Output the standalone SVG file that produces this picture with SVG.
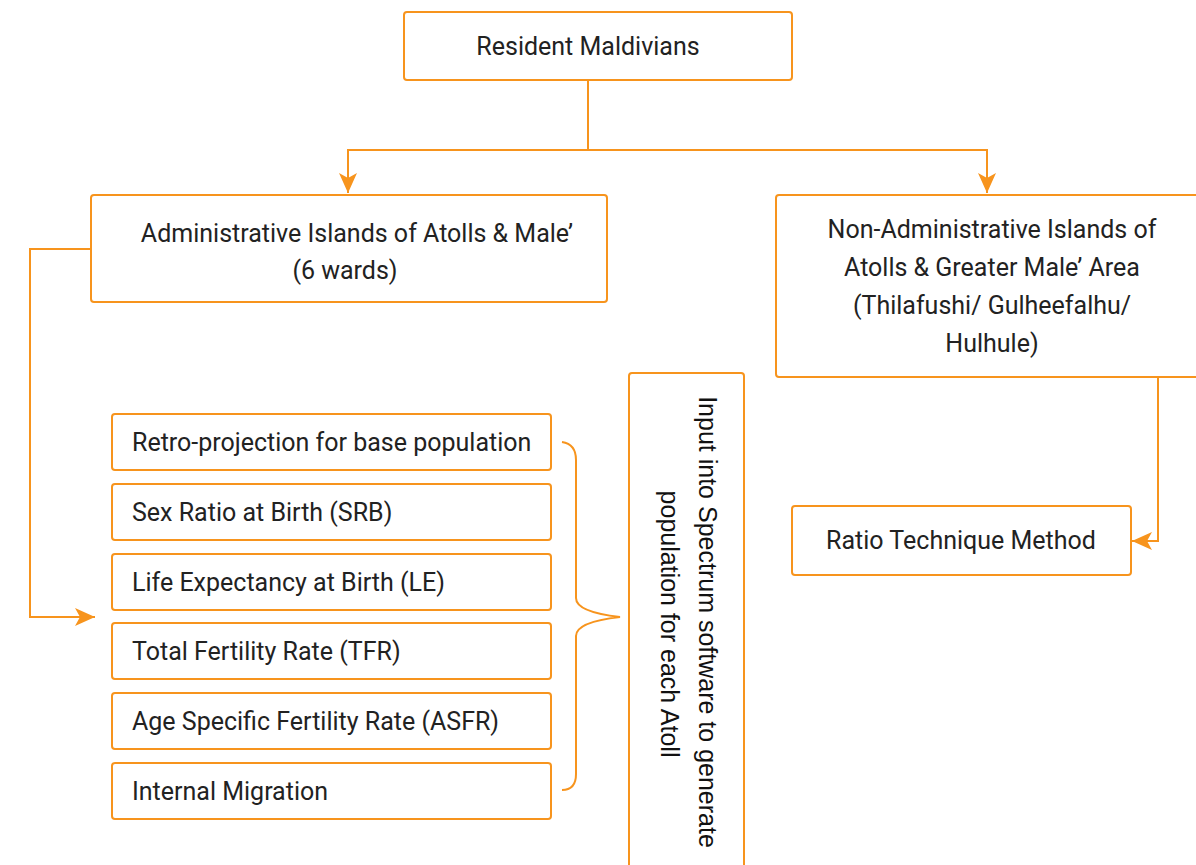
<svg xmlns="http://www.w3.org/2000/svg" width="1196" height="865" viewBox="0 0 1196 865">
<defs>
<style>
.box{fill:#fff;stroke:#F7941D;stroke-width:2}
.ln{fill:none;stroke:#F7941D;stroke-width:2}
.t{font-family:Roboto,"Liberation Sans",sans-serif;font-size:25px;fill:#222}
.c{text-anchor:middle}
.v{font-family:"Liberation Sans",Arial,sans-serif;font-size:25px;fill:#111;text-anchor:middle}
</style>
<marker id="ahb" viewBox="0 0 20 20" refX="20" refY="10" markerWidth="20" markerHeight="20" markerUnits="userSpaceOnUse" orient="auto">
<path d="M0,1 L20,10 L0,19 L5,10 Z" fill="#F7941D"/>
</marker>
</defs>
<rect width="1196" height="865" fill="#fff"/>
<g id="connectors">
<path class="ln" d="M588,80 V150 H348 V193" marker-end="url(#ahb)"/>
<path class="ln" d="M588,150 H987 V193" marker-end="url(#ahb)"/>
<path class="ln" d="M91,249 H30 V617 H95" marker-end="url(#ahb)"/>
<path class="ln" d="M1158,377 V541 H1132" marker-end="url(#ahb)"/>
<path class="ln" d="M562,442 Q576,444 576,460 V598 Q576,612 620,617 Q576,622 576,636 V774 Q576,790 562,790"/>
</g>
<g id="n-resident">
<rect class="box" x="404" y="12" width="388" height="68" rx="3"/>
<text class="t c" x="588" y="55">Resident Maldivians</text>
</g>
<g id="n-admin">
<rect class="box" x="91" y="195" width="516" height="107" rx="3"/>
<text class="t c" x="357" y="242">Administrative Islands of Atolls &amp; Male’</text>
<text class="t c" x="345" y="279">(6 wards)</text>
</g>
<g id="n-nonadmin">
<rect class="box" x="776" y="195" width="432" height="182" rx="3"/>
<text class="t c" x="992" y="238">Non-Administrative Islands of</text>
<text class="t c" x="992" y="276">Atolls &amp; Greater Male’ Area</text>
<text class="t c" x="992" y="314">(Thilafushi/ Gulheefalhu/</text>
<text class="t c" x="992" y="352">Hulhule)</text>
</g>
<g id="n-retro">
<rect class="box" x="112" y="414" width="439" height="56" rx="3"/>
<text class="t" x="132" y="451">Retro-projection for base population</text>
</g>
<g id="n-srb">
<rect class="box" x="112" y="484" width="439" height="56" rx="3"/>
<text class="t" x="132" y="521">Sex Ratio at Birth (SRB)</text>
</g>
<g id="n-le">
<rect class="box" x="112" y="554" width="439" height="56" rx="3"/>
<text class="t" x="132" y="591">Life Expectancy at Birth (LE)</text>
</g>
<g id="n-tfr">
<rect class="box" x="112" y="623" width="439" height="56" rx="3"/>
<text class="t" x="132" y="660">Total Fertility Rate (TFR)</text>
</g>
<g id="n-asfr">
<rect class="box" x="112" y="693" width="439" height="56" rx="3"/>
<text class="t" x="132" y="730">Age Specific Fertility Rate (ASFR)</text>
</g>
<g id="n-migration">
<rect class="box" x="112" y="763" width="439" height="56" rx="3"/>
<text class="t" x="132" y="800">Internal Migration</text>
</g>
<g id="n-spectrum">
<rect class="box" x="629" y="373" width="115" height="510" rx="3"/>
<text class="v" transform="translate(699,622) rotate(90)">Input into Spectrum software to generate</text>
<text class="v" transform="translate(661,624) rotate(90)">population for each Atoll</text>
</g>
<g id="n-ratio">
<rect class="box" x="792" y="506" width="339" height="69" rx="3"/>
<text class="t c" x="961" y="549">Ratio Technique Method</text>
</g>
</svg>
